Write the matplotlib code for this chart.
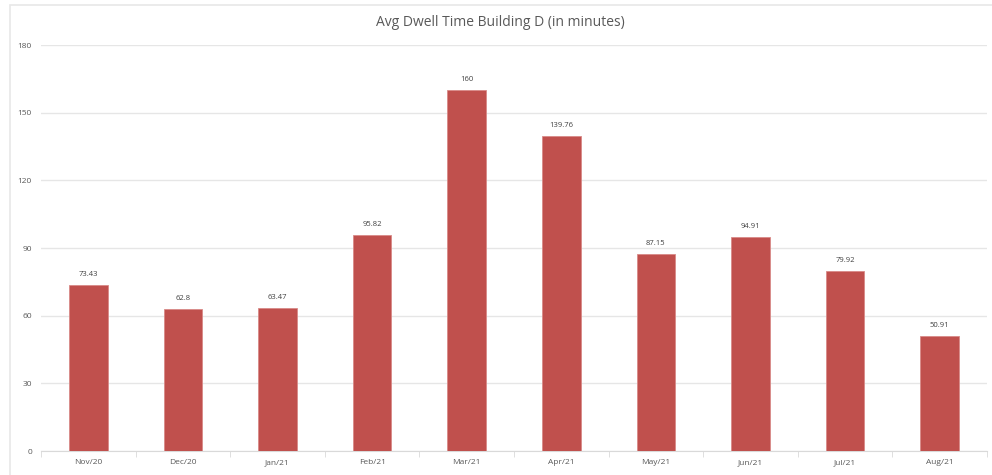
import matplotlib.pyplot as plt
import numpy as np

## data
months = ["Nov/20", "Dec/20", "Jan/21", "Feb/21", "Mar/21", "Apr/21",
          "May/21", "Jun/21", "Jul/21", "Aug/21"]
dwell = [73.43, 62.8, 63.47, 95.82, 160, 139.76, 87.15, 94.91, 79.92, 50.91]
yticks = [0, 30, 60, 90, 120, 150, 180]

txt = "#595959"
grid = "#e6e6e6"

plt.rcParams['font.family'] = ['Open Sans', 'DejaVu Sans']

fig = plt.figure(figsize=(9.92, 4.75), dpi=100)
# chart frame
fig.patches.append(plt.Rectangle((10/992, -0.1), 1.0, 1.09, transform=fig.transFigure,
                                 fill=False, edgecolor="#e8e8e8", lw=1.2))

ax = fig.add_axes([41/992, 1-451/475, 946/992, (451-45)/475])
x = np.arange(len(months))
bars = ax.bar(x, dwell, width=0.41, color="#C0504D", edgecolor="#d98a88", linewidth=0.6, zorder=3)

for xi, v in zip(x, dwell):
    ax.annotate(f"{v:g}", (xi, v), xytext=(0, 5), textcoords="offset points",
                ha="center", va="bottom", fontsize=5.5, color="#404040")

ax.set_xlim(-0.5, len(months)-0.5)
ax.set_ylim(0, 180)
ax.set_yticks(yticks)
ax.set_xticks(x)
ax.set_xticklabels(months)
ax.set_xticks(np.arange(-0.5, len(months)), minor=True)
ax.tick_params(axis='x', which='major', length=0, labelsize=6, colors=txt, pad=6)
ax.tick_params(axis='x', which='minor', length=4, color="#d9d9d9")
ax.tick_params(axis='y', length=0, labelsize=6, colors=txt, pad=6.5)
ax.grid(axis='y', color=grid, lw=1, zorder=0)
for s in ['top', 'right', 'left']:
    ax.spines[s].set_visible(False)
ax.spines['bottom'].set_color("#d9d9d9")

fig.text(500/992, 1-22/475, "Avg Dwell Time Building D (in minutes)", ha="center", va="center",
         fontsize=10, color=txt)

fig.savefig("out.png", dpi=100)
